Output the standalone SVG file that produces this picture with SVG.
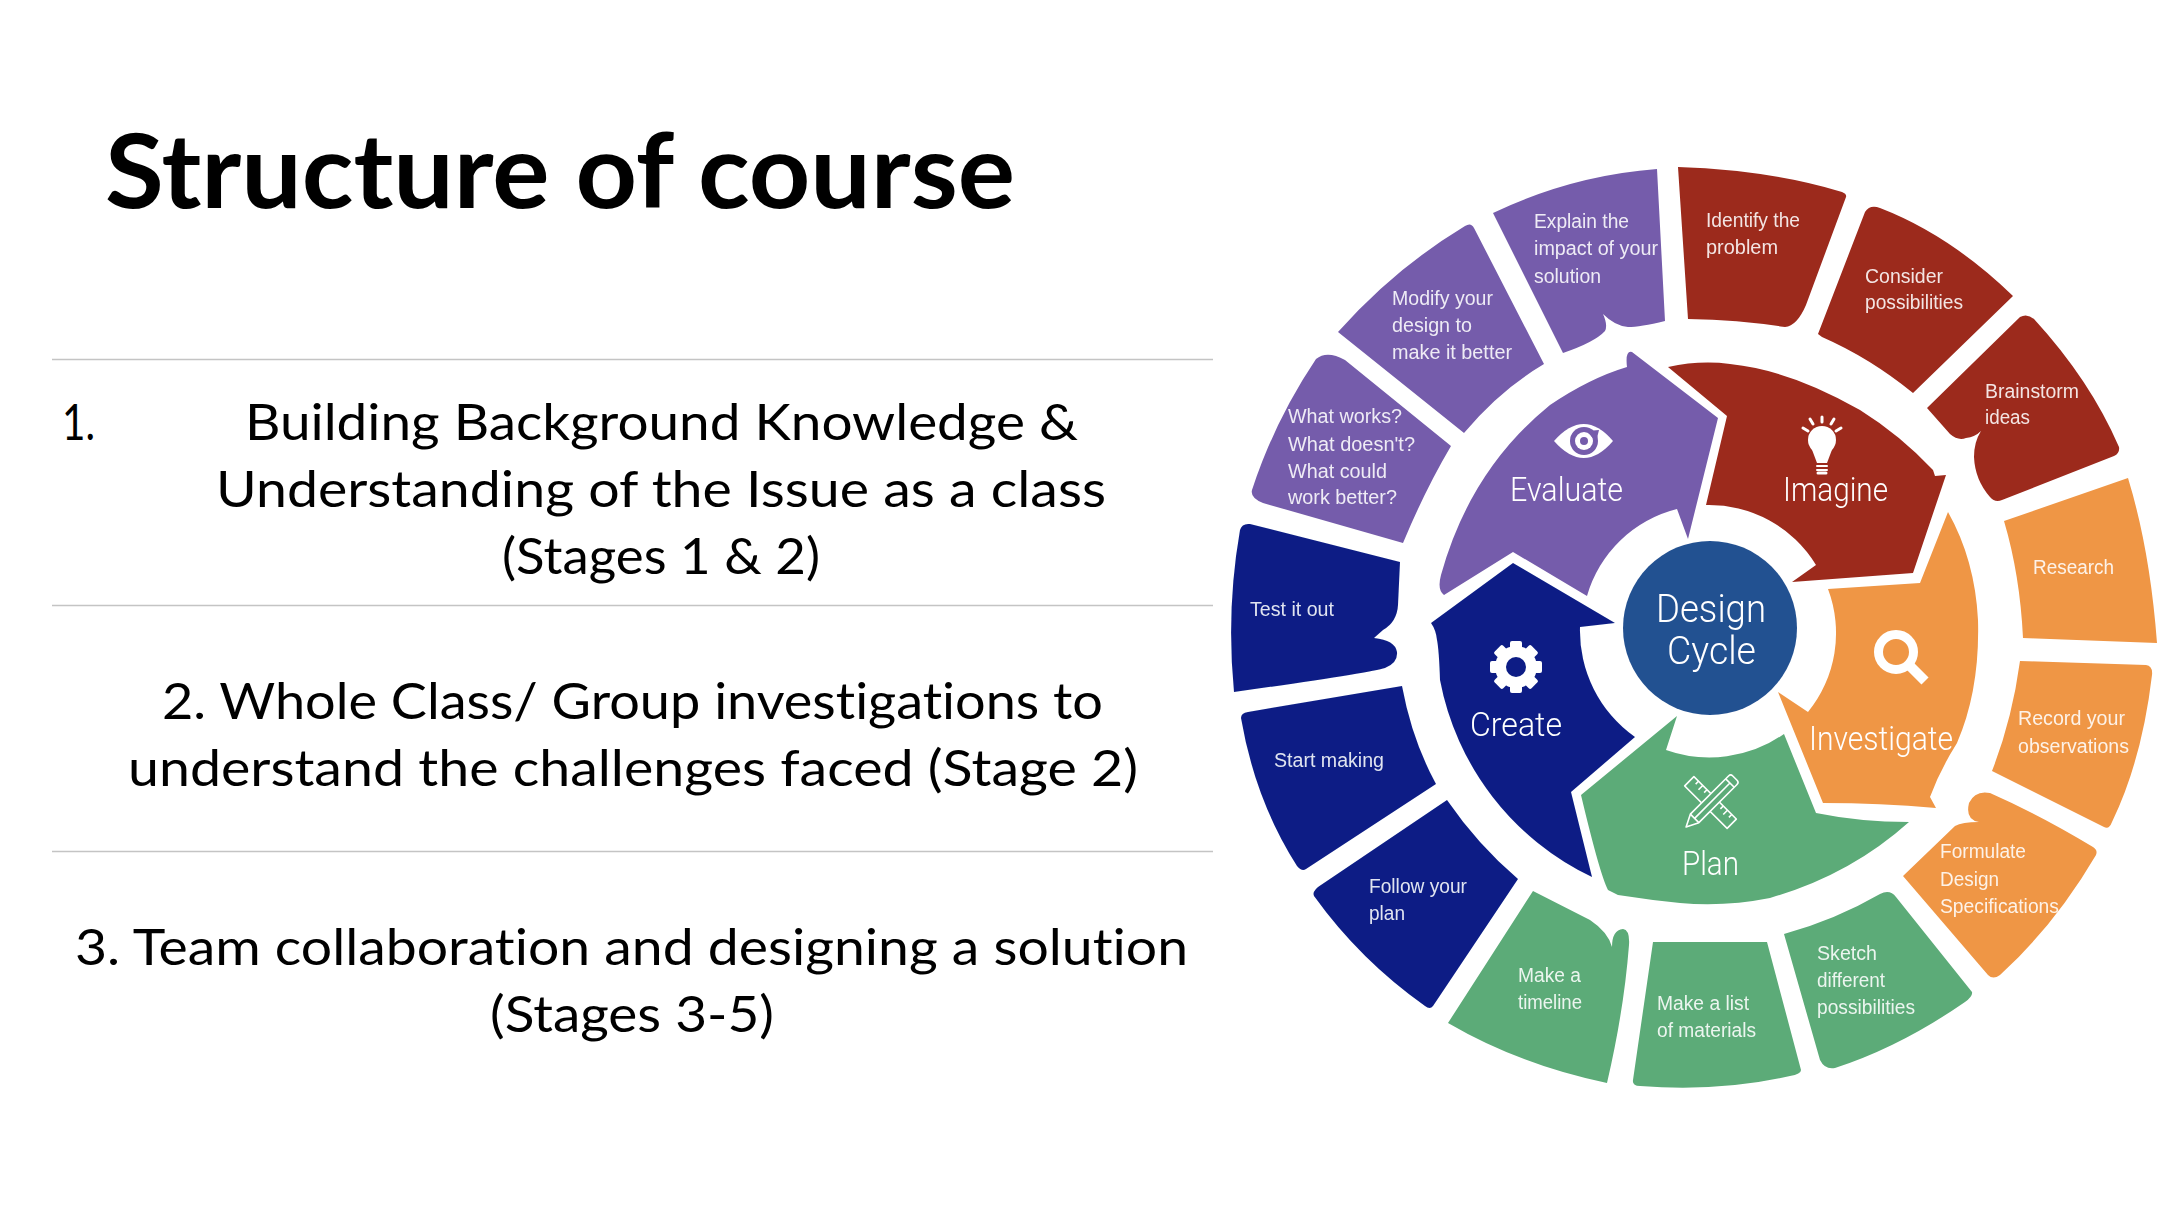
<svg xmlns="http://www.w3.org/2000/svg" width="2174" height="1206" viewBox="0 0 2174 1206">
<defs><filter id="soft" x="-2%" y="-2%" width="104%" height="104%"><feGaussianBlur stdDeviation="0.45"/></filter></defs>
<style>
text{font-family:"Liberation Sans",Arial,sans-serif}
.h{font-family:Lato,"Liberation Sans",sans-serif;font-weight:700;font-size:103px;fill:#000;font-variant-ligatures:none}
.b{font-family:Lato,"Liberation Sans",sans-serif;font-size:50px;fill:#000;font-variant-ligatures:none}
.s{font-size:20px;fill:#fff;fill-opacity:.88}
.l{font-family:Roboto,"Liberation Sans",sans-serif;font-weight:300;font-size:33px;fill:#fff}
.c{font-family:Roboto,"Liberation Sans",sans-serif;font-weight:300;font-size:38px;fill:#fff}
.rule{stroke:#c4c4c4;stroke-width:1.5}
.pu{fill:#755cab}.re{fill:#9c291c}.or{fill:#ef9645}.na{fill:#0b1f85}.gr{fill:#5cab78}
.ic{fill:none;stroke:#fff;stroke-linecap:round}
</style>
<rect width="2174" height="1206" fill="#fff"/>
<g id="title"><text class="h" x="105" y="208" textLength="910" lengthAdjust="spacingAndGlyphs">Structure of course</text></g>
<g id="rules">
<line class="rule" x1="52" y1="359.500" x2="1213" y2="359.500"/>
<line class="rule" x1="52" y1="605.500" x2="1213" y2="605.500"/>
<line class="rule" x1="52" y1="851.500" x2="1213" y2="851.500"/>
</g>
<g id="item-1">
<text class="b" x="62" y="440" textLength="33" lengthAdjust="spacingAndGlyphs">1.</text>
<text class="b" x="245" y="440" textLength="833" lengthAdjust="spacingAndGlyphs">Building Background Knowledge &amp;</text>
<text class="b" x="216" y="507" textLength="890" lengthAdjust="spacingAndGlyphs">Understanding of the Issue as a class</text>
<text class="b" x="502" y="574" textLength="318" lengthAdjust="spacingAndGlyphs">(Stages 1 &amp; 2)</text>
</g>
<g id="item-2">
<text class="b" x="162" y="719" textLength="941" lengthAdjust="spacingAndGlyphs">2. Whole Class/ Group investigations to</text>
<text class="b" x="128" y="786" textLength="1010" lengthAdjust="spacingAndGlyphs">understand the challenges faced (Stage 2)</text>
</g>
<g id="item-3">
<text class="b" x="75" y="965" textLength="1113" lengthAdjust="spacingAndGlyphs">3. Team collaboration and designing a solution</text>
<text class="b" x="490" y="1032" textLength="284" lengthAdjust="spacingAndGlyphs">(Stages 3-5)</text>
</g>

<g id="wheel" filter="url(#soft)">
<g id="step-explain"><path class="pu" d="M1493 213A462 462 0 0 1 1657 169L1665 321Q1640 327 1628 327Q1615 326 1603 314Q1608 325 1605 331Q1595 342 1563 353Z"/>
<text class="s" x="1534" y="228" textLength="95" lengthAdjust="spacingAndGlyphs">Explain the</text><text class="s" x="1534" y="255" textLength="124" lengthAdjust="spacingAndGlyphs">impact of your</text><text class="s" x="1534" y="283" textLength="67" lengthAdjust="spacingAndGlyphs">solution</text></g>
<g id="step-modify"><path class="pu" d="M1338 332Q1395 268 1465 226Q1471 222 1474 228L1544 364Q1500 390 1464 433Z"/>
<text class="s" x="1392" y="305" textLength="101" lengthAdjust="spacingAndGlyphs">Modify your</text><text class="s" x="1392" y="332" textLength="80" lengthAdjust="spacingAndGlyphs">design to</text><text class="s" x="1392" y="359" textLength="120" lengthAdjust="spacingAndGlyphs">make it better</text></g>
<g id="step-works"><path class="pu" d="M1316 359Q1327 350 1345 360L1451 446Q1425 490 1403 543L1263 503Q1250 498 1252 490Q1275 420 1316 359Z"/>
<text class="s" x="1288" y="423" textLength="114" lengthAdjust="spacingAndGlyphs">What works?</text><text class="s" x="1288" y="451" textLength="127" lengthAdjust="spacingAndGlyphs">What doesn't?</text><text class="s" x="1288" y="478" textLength="99" lengthAdjust="spacingAndGlyphs">What could</text><text class="s" x="1288" y="504" textLength="109" lengthAdjust="spacingAndGlyphs">work better?</text></g>
<g id="step-test"><path class="na" d="M1240 530Q1242 523 1250 524L1400 562L1398 605Q1397 622 1383 630L1374 638Q1395 640 1397 652Q1398 663 1385 668Q1370 673 1234 692Q1226 610 1240 530Z"/>
<text class="s" x="1250" y="616" textLength="84" lengthAdjust="spacingAndGlyphs">Test it out</text></g>
<g id="step-start"><path class="na" d="M1241 718Q1241 713 1248 712L1402 686Q1412 740 1436 784L1306 869Q1302 872 1297 866Q1255 800 1241 718Z"/>
<text class="s" x="1274" y="767" textLength="110" lengthAdjust="spacingAndGlyphs">Start making</text></g>
<g id="step-follow"><path class="na" d="M1447 800Q1478 845 1518 879L1433 1006Q1430 1010 1425 1006Q1360 960 1314 896Q1312 892 1318 887Z"/>
<text class="s" x="1369" y="893" textLength="98" lengthAdjust="spacingAndGlyphs">Follow your</text><text class="s" x="1369" y="920" textLength="36" lengthAdjust="spacingAndGlyphs">plan</text></g>
<g id="step-timeline"><path class="gr" d="M1533 891L1590 920Q1608 932 1612 947Q1612 930 1623 929Q1630 930 1629 945Q1624 1010 1607 1083Q1520 1065 1448 1023Z"/>
<text class="s" x="1518" y="982" textLength="63" lengthAdjust="spacingAndGlyphs">Make a</text><text class="s" x="1518" y="1009" textLength="64" lengthAdjust="spacingAndGlyphs">timeline</text></g>
<g id="step-materials"><path class="gr" d="M1653 942L1767 942L1801 1070Q1801 1074 1790 1076Q1720 1092 1640 1086Q1632 1086 1633 1080Z"/>
<text class="s" x="1657" y="1010" textLength="92" lengthAdjust="spacingAndGlyphs">Make a list</text><text class="s" x="1657" y="1037" textLength="99" lengthAdjust="spacingAndGlyphs">of materials</text></g>
<g id="step-sketch"><path class="gr" d="M1784 934Q1835 920 1880 894Q1890 889 1896 897L1972 992Q1973 996 1965 1002Q1900 1047 1835 1068Q1825 1070 1820 1060Z"/>
<text class="s" x="1817" y="960" textLength="60" lengthAdjust="spacingAndGlyphs">Sketch</text><text class="s" x="1817" y="987" textLength="68" lengthAdjust="spacingAndGlyphs">different</text><text class="s" x="1817" y="1014" textLength="98" lengthAdjust="spacingAndGlyphs">possibilities</text></g>
<g id="step-formulate"><path class="or" d="M1903 876L1955 826Q1962 822 1979 822Q1965 820 1969 803Q1975 790 1990 793Q2040 815 2093 847Q2098 850 2096 855Q2055 925 2000 975Q1993 980 1988 975Z"/>
<text class="s" x="1940" y="858" textLength="86" lengthAdjust="spacingAndGlyphs">Formulate</text><text class="s" x="1940" y="886" textLength="59" lengthAdjust="spacingAndGlyphs">Design</text><text class="s" x="1940" y="913" textLength="119" lengthAdjust="spacingAndGlyphs">Specifications</text></g>
<g id="step-record"><path class="or" d="M2020 661L2146 665Q2153 666 2152 675Q2142 760 2112 822Q2109 830 2104 827L1992 771Q2012 720 2020 661Z"/>
<text class="s" x="2018" y="725" textLength="107" lengthAdjust="spacingAndGlyphs">Record your</text><text class="s" x="2018" y="753" textLength="111" lengthAdjust="spacingAndGlyphs">observations</text></g>
<g id="step-research"><path class="or" d="M2004 521L2128 478Q2150 550 2157 643L2023 638Q2020 575 2004 521Z"/>
<text class="s" x="2033" y="574" textLength="81" lengthAdjust="spacingAndGlyphs">Research</text></g>
<g id="step-brainstorm"><path class="re" d="M1927 408L2020 317Q2027 313 2034 319Q2090 380 2119 447Q2120 453 2114 456L2002 500Q1995 503 1990 497Q1975 480 1974 457Q1974 442 1981 431Q1975 437 1966 438Q1958 441 1950 434Z"/>
<text class="s" x="1985" y="398" textLength="94" lengthAdjust="spacingAndGlyphs">Brainstorm</text><text class="s" x="1985" y="424" textLength="45" lengthAdjust="spacingAndGlyphs">ideas</text></g>
<g id="step-consider"><path class="re" d="M1818 334L1865 212Q1870 204 1880 208Q1950 235 2013 296L1913 393Q1870 358 1822 337Z"/>
<text class="s" x="1865" y="283" textLength="78" lengthAdjust="spacingAndGlyphs">Consider</text><text class="s" x="1865" y="309" textLength="98" lengthAdjust="spacingAndGlyphs">possibilities</text></g>
<g id="step-identify"><path class="re" d="M1678 167Q1770 170 1842 192Q1847 194 1846 197L1806 305Q1797 326 1785 327Q1740 320 1688 319Z"/>
<text class="s" x="1706" y="227" textLength="94" lengthAdjust="spacingAndGlyphs">Identify the</text><text class="s" x="1706" y="254" textLength="72" lengthAdjust="spacingAndGlyphs">problem</text></g>

<g id="phase-imagine"><path class="re" d="M1668 367Q1700 360 1730 364Q1790 370 1860 410Q1900 435 1933 470L1935 476L1946 475L1913 573L1792 582L1816 565A125 125 0 0 0 1706 505L1727 416Z"/>
<g class="ic"><circle cx="1822" cy="440" r="14" fill="#fff" stroke="none"/><path d="M1811 447L1817 463H1827L1833 447Z" fill="#fff" stroke="none"/><path stroke-width="2" d="M1817 466H1827M1817 470H1827"/><path d="M1818 473H1826" stroke-width="3"/><path stroke-width="3" d="M1822 417V422M1810 419L1813 424M1834 419L1831 424M1803 428L1808 431M1841 428L1836 431"/></g>
<text class="l" x="1783" y="501" textLength="105" lengthAdjust="spacingAndGlyphs">Imagine</text></g>
<g id="phase-investigate"><path class="or" d="M1948 512Q1975 560 1978 620Q1980 690 1957 743Q1940 770 1930 797L1936 808Q1880 803 1823 803L1778 692L1808 712A125 125 0 0 0 1828 589L1920 583Z"/>
<circle cx="1896" cy="652" r="17.500" fill="none" stroke="#fff" stroke-width="9"/><path d="M1909 665L1925 681" stroke="#fff" stroke-width="10" fill="none"/>
<text class="l" x="1809" y="750" textLength="144" lengthAdjust="spacingAndGlyphs">Investigate</text></g>
<g id="phase-plan"><path class="gr" d="M1677 716L1666 750A130 130 0 0 0 1784 734L1816 813Q1860 822 1909 822Q1850 875 1770 898Q1725 907 1680 903Q1650 900 1618 895L1608 890Q1600 875 1581 795Z"/>
<g fill="#5cab78" stroke="#fff" stroke-width="1.600" stroke-linejoin="round"><g transform="rotate(45 1710.500 802.500)"><rect x="1680.500" y="796" width="60" height="13"/><path d="M1687 796V800M1693 796V802M1699 796V800M1722 796V800M1728 796V802M1734 796V800"/></g>
<g transform="rotate(-45 1710.500 802.500)"><path d="M1676 802.500L1688 796.500H1742Q1745 796.500 1745 799.500V805.500Q1745 808.500 1742 808.500H1688Z"/><path d="M1688 796.500V808.500M1738 796.500V808.500M1688 802.500H1738"/></g></g>
<text class="l" x="1682" y="875" textLength="57" lengthAdjust="spacingAndGlyphs">Plan</text></g>
<g id="phase-create"><path class="na" d="M1513 563L1615 623L1580 627A130 130 0 0 0 1635 737L1571 792L1592 877A275 275 0 0 1 1440 680Q1439 650 1437 640Q1436 630 1431 623Z"/>
<g fill="#fff"><circle cx="1516" cy="667" r="21"/><rect x="1510" y="641" width="12" height="52" rx="2"/><rect x="1510" y="641" width="12" height="52" rx="2" transform="rotate(45 1516 667)"/><rect x="1510" y="641" width="12" height="52" rx="2" transform="rotate(90 1516 667)"/><rect x="1510" y="641" width="12" height="52" rx="2" transform="rotate(135 1516 667)"/></g><circle cx="1516" cy="667" r="10" fill="#0b1f85"/>
<text class="l" x="1470" y="736" textLength="92" lengthAdjust="spacingAndGlyphs">Create</text></g>
<g id="phase-evaluate"><path class="pu" d="M1632 352L1718 418L1688 539L1677 509A125 125 0 0 0 1587 596L1513 552L1444 595Q1437 590 1441 575Q1470 470 1550 405Q1590 378 1627 367Q1625 350 1632 352Z"/>
<path d="M1554 441Q1584 407 1613 441Q1584 475 1554 441Z" fill="#fff"/><circle cx="1584" cy="441" r="14" fill="#755cab"/><circle cx="1584" cy="441" r="9" fill="#fff"/><circle cx="1584" cy="441" r="4" fill="#755cab"/><path d="M1587 431L1599 430L1596 442Z" fill="#755cab"/>
<text class="l" x="1510" y="501" textLength="113" lengthAdjust="spacingAndGlyphs">Evaluate</text></g>
<g id="hub"><circle cx="1710" cy="628" r="87" fill="#245191"/>
<text class="c" x="1656" y="622" textLength="110" lengthAdjust="spacingAndGlyphs">Design</text><text class="c" x="1667" y="664" textLength="89" lengthAdjust="spacingAndGlyphs">Cycle</text></g>
</g>
</svg>
